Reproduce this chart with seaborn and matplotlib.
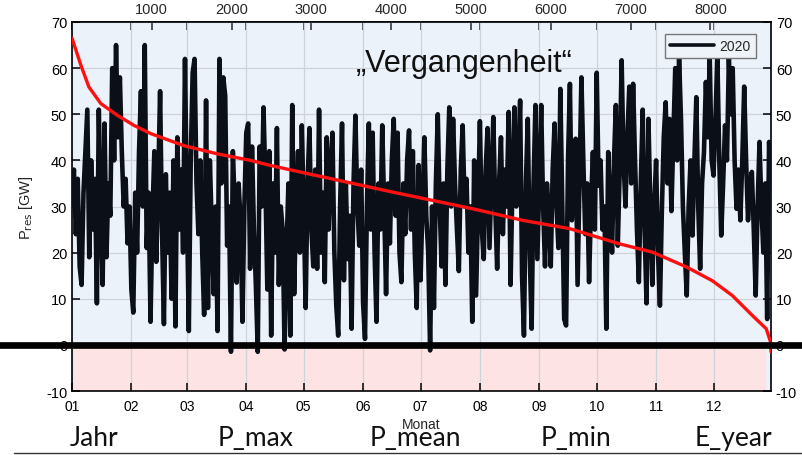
import numpy as np
import pandas as pd
import matplotlib
matplotlib.use("Agg")
import matplotlib.pyplot as plt
import seaborn as sns
from matplotlib.lines import Line2D

# Residual load 2020, one reading per day (GW)
daily_gw = [
    30, 38, 24, 36, 17, 13, 33, 42, 51, 19, 40, 25, 36, 9, 51, 30, 13, 48, 19, 35,
    28, 60, 40, 65, 45, 58, 42, 30, 36, 22, 30, 12, 7, 33, 20, 42, 55, 30, 65, 21,
    33, 5, 28, 42, 18, 35, 55, 25, 4.5, 37, 20, 33, 10, 40, 4, 45, 25, 38, 20, 62,
    30, 3, 40, 59, 62, 35, 24, 40, 20, 6.5, 53, 8, 40, 25, 11, 30, 3, 62, 35, 58,
    54, 21.5, 30, -1.5, 42, 30, 13.5, 35, 27, 5, 30, 46, 48, 16.5, 43, 25, 13, -1.5, 43, 30,
    51.5, 35, 12, 42, 2, 35, 20, 47, 13, 30, 25, -1, 20, 35, 2, 52, 11, 30, 42, 20,
    47.6, 30, 8, 35, 47, 25, 17, 38, 16.5, 51, 20, 33, 13.6, 45, 25, 38, 46, 20, 8.5, 2,
    30, 48, 14, 35, 18.6, 28, 3.5, 35, 49.7, 30, 21.5, 38, 9, 1.3, 30, 48, 25, 46, 20, 5,
    35, 25, 47.6, 30, 11, 35, 22, 40, 49, 28, 46, 20, 13.6, 35, 24, 40, 46.5, 25, 42, 20,
    8, 39, 14, 30, 45, 28, 20, -1.2, 30, 8, 35, 50, 30, 17, 35, 13, 38, 51.5, 30, 49,
    35, 25, 16, 38, 47.6, 30, 36, 20, 30, 5, 40, 10.7, 30, 48.5, 25, 18.6, 38, 47, 21, 35,
    49.4, 30, 16.5, 35, 45, 24, 38, 30, 50.5, 13, 35, 51.5, 30, 40, 53, 15, 2, 35, 49, 20,
    3.5, 35, 52, 18.6, 35, 52, 30, 17, 35, 28, 17, 38, 48, 30, 21, 55.5, 30, 5.6, 4.2, 40,
    56.6, 27, 38, 44.7, 13, 35, 58, 40, 24, 35, 13.6, 30, 41.8, 25, 59, 34.5, 40, 25, 30, 3.5,
    41.8, 30, 20, 40, 52, 21.5, 38, 61.7, 40, 30, 45, 56, 35, 56.6, 40, 25, 13.6, 35, 51, 25,
    9, 49, 30, 13, 30, 40, 20, 8.5, 29, 45, 52.6, 35, 49, 29, 45, 60, 40, 62.4, 49, 30,
    20, 10.7, 30, 40, 23.7, 40, 53.7, 30, 16.5, 35, 41.8, 57, 45, 62.4, 40, 36.7, 49, 62.4, 40, 23.7,
    35, 47.6, 40, 62, 50, 60, 40, 29.5, 38, 27, 40, 56, 40, 27, 35, 37.5, 25, 10.7, 30, 44,
    30, 20, 35, 5.6, 44, 34.5,
]

# Sorted (duration) curve: hour of year -> GW
duration_hours = [0, 112, 212, 362, 575, 775, 987, 1400, 1825, 2237, 2487, 2962, 4025,
                  5025, 5650, 6237, 6862, 7275, 7700, 8025, 8275, 8525, 8700, 8755, 8760]
duration_gw = [66.5, 60.6, 55.9, 52.3, 49.7, 47.6, 45.8, 43.2, 41.4, 40.0, 38.9, 37.1, 33.1,
               29.5, 27.0, 25.2, 21.9, 20.1, 16.9, 13.9, 10.7, 6.4, 3.5, 0.6, -1.5]

month_labels = ["01", "02", "03", "04", "05", "06", "07", "08", "09", "10", "11", "12"]
hour_ticks = [1000, 2000, 3000, 4000, 5000, 6000, 7000, 8000]
y_ticks = [-10, 0, 10, 20, 30, 40, 50, 60, 70]
bottom_labels = ["Jahr", "P_max", "P_mean", "P_min", "E_year"]
series_name = "2020"
title_text = "\u201eVergangenheit\u201c"

sns.set_theme(style="white")
plt.rcParams["font.family"] = ["Liberation Sans", "DejaVu Sans"]
plt.rcParams["axes.unicode_minus"] = False

month_starts = pd.date_range("2020-01-01", periods=12, freq="MS")
month_hours = [(d - pd.Timestamp("2020-01-01")).total_seconds() / 3600 for d in month_starts]

df = pd.DataFrame({"hour": np.arange(len(daily_gw)) * 24, "gw": daily_gw})
df_dur = pd.DataFrame({"hour": duration_hours, "gw": duration_gw})

fig = plt.figure(figsize=(8.02, 4.56), dpi=100)
ax = fig.add_axes([72 / 802, 1 - 392 / 456, (771 - 72) / 802, (392 - 23) / 456])
ax.set_facecolor("#ecf2fa")
ax.axhspan(-10, 0, xmin=0, xmax=0.991, color="#fde3e3", zorder=0)

sns.lineplot(data=df, x="hour", y="gw", ax=ax, color="#0b1018", lw=3.3,
             label=series_name, zorder=3)
sns.lineplot(data=df_dur, x="hour", y="gw", ax=ax, color="#ff1010", lw=2.4,
             zorder=4, legend=False)

ax.set_xlim(0, 8760)
ax.set_ylim(-10, 70)
ax.set_yticks(y_ticks)
ax.set_xticks(month_hours)
ax.set_xticklabels(month_labels)
ax.grid(True, color="#cfd3d9", lw=0.9)
ax.set_axisbelow(True)
for s in ax.spines.values():
    s.set_visible(True)
    s.set_color("black")
    s.set_linewidth(1.2)
ax.tick_params(axis="both", direction="in", length=6, width=1.1, colors="black",
               labelsize=10.5, left=True, bottom=True, right=True, labelright=True)
ax.tick_params(axis="x", labelsize=10, pad=6)
ax.set_xlabel("Monat", fontsize=10, labelpad=3)
ax.set_ylabel(r"P$_{\mathrm{res}}$ [GW]", fontsize=10.5, labelpad=8)

top = ax.secondary_xaxis("top")
top.set_xticks(hour_ticks)
top.set_xticks(month_hours, minor=True)
top.tick_params(which="both", direction="in", length=6, width=1.1, labelsize=10.5, pad=4)

leg = ax.legend(loc="upper right", frameon=True, fancybox=False, edgecolor="#777777",
                facecolor="#eef3fa", framealpha=1, fontsize=10, handlelength=3.2,
                borderpad=0.35, handletextpad=0.4, bbox_to_anchor=(0.988, 0.985))
leg.get_frame().set_linewidth(1.0)
for h in leg.get_lines():
    h.set_linewidth(2.6)

ax.text(0.561, 0.89, title_text, transform=ax.transAxes, fontsize=22,
        ha="center", va="center", color="#111111", zorder=6)

# thick zero line across the whole figure
y0 = ax.transData.transform((0, 0))[1]
y0f = fig.transFigure.inverted().transform((0, y0))[1]
fig.add_artist(Line2D([0, 1], [y0f, y0f], transform=fig.transFigure,
                      color="black", lw=4.8, zorder=5))

# bottom labels
label_x = [70, 218, 370, 541, 695]
for lx, txt in zip(label_x, bottom_labels):
    fig.text(lx / 802, 1 - 446 / 456, txt, fontsize=19, family=["Lato", "DejaVu Sans"],
             ha="left", va="baseline", color="#111111")
fig.add_artist(Line2D([14 / 802, 1], [1 - 454 / 456] * 2, transform=fig.transFigure,
                      color="#333333", lw=1.0))

fig.savefig("out.png", dpi=100)
